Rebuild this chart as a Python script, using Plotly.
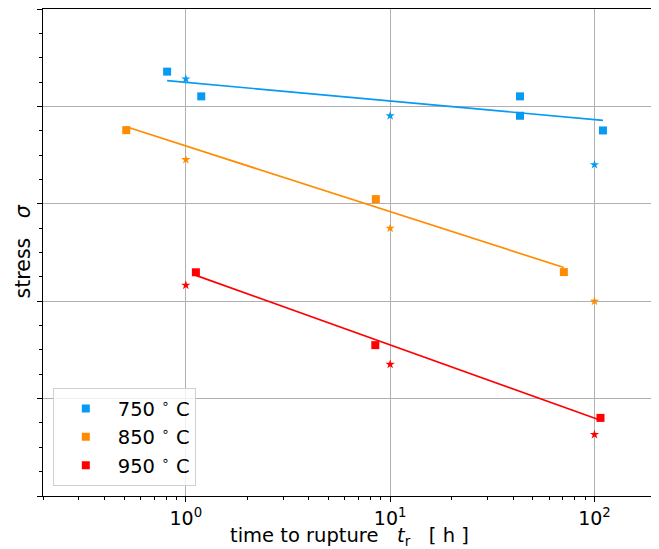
import numpy as np
import plotly.graph_objects as go

# ---- data ----
labels = ["750 <sup>∘</sup> C", "850 <sup>∘</sup> C", "950 <sup>∘</sup> C"]
colors = ["#069AF3", "#FF8C00", "#FF0000"]

# measured (squares)
t_750 = [0.81, 1.19, 43.2, 43.2, 110]
s_750 = [4.357, 4.103, 4.103, 3.904, 3.753]
t_850 = [0.511, 8.51, 70.8]
s_850 = [3.756, 3.048, 2.299]
t_950 = [1.12, 8.46, 107]
s_950 = [2.297, 1.549, 0.802]

# model (stars)
t_star = [1, 10, 100]
s_star_750 = [4.282, 3.904, 3.402]
s_star_850 = [3.454, 2.749, 2.0]
s_star_950 = [2.164, 1.352, 0.631]

xtick_vals = [1, 10, 100]
xtick_text = ["10<sup>0</sup>", "10<sup>1</sup>", "10<sup>2</sup>"]

meas = [(t_750, s_750), (t_850, s_850), (t_950, s_950)]
stars = [s_star_750, s_star_850, s_star_950]

fig = go.Figure()

for (t, s), c, lab in zip(meas, colors, labels):
    lt = np.log10(t)
    b, a = np.polyfit(lt, s, 1)
    xl = np.array([min(t), max(t)])
    fig.add_trace(go.Scatter(x=xl, y=a + b * np.log10(xl), mode="lines",
                             line=dict(color=c, width=1.7), showlegend=False,
                             hoverinfo="skip"))

for (t, s), c, lab in zip(meas, colors, labels):
    fig.add_trace(go.Scatter(x=t, y=s, mode="markers", name=lab,
                             marker=dict(symbol="square", size=8, color=c)))

for ss, c in zip(stars, colors):
    fig.add_trace(go.Scatter(x=t_star, y=ss, mode="markers", showlegend=False,
                             marker=dict(symbol="star", size=7, color=c)))

minor_x = [v * 10 ** k for k in (-1, 0, 1) for v in range(2, 10)] + [200]
minor_x = [v for v in minor_x if 0.2 <= v <= 200]

# the page body has an 8px default margin: shrink the figure to compensate
font_fam = "DejaVu Sans"
fig.update_layout(
    width=651, height=541,
    margin=dict(l=35, r=3, t=1, b=53, autoexpand=False),
    plot_bgcolor="white", paper_bgcolor="white",
    font=dict(family=font_fam, size=19, color="black"),
    xaxis=dict(
        type="log", range=[np.log10(0.2), np.log10(200)],
        tickvals=xtick_vals, ticktext=xtick_text,
        showgrid=True, gridcolor="#b0b0b0", gridwidth=1,
        showline=True, linecolor="black", linewidth=1.2, mirror=True,
        ticks="outside", ticklen=5, tickcolor="black",
        minor=dict(tickvals=minor_x, ticks="outside", ticklen=3, tickcolor="black", showgrid=False),
        tickfont=dict(size=19),
        automargin=False, zeroline=False,
    ),
    yaxis=dict(
        range=[0, 5], dtick=1, tick0=0,
        showticklabels=False,
        showgrid=True, gridcolor="#b0b0b0", gridwidth=1,
        showline=True, linecolor="black", linewidth=1.2, mirror=True,
        ticks="outside", ticklen=5, tickcolor="black",
        minor=dict(dtick=0.25, ticks="outside", ticklen=3, tickcolor="black", showgrid=False),
        automargin=False, zeroline=False,
    ),
    legend=dict(
        x=0.016, y=0.02, xanchor="left", yanchor="bottom",
        bgcolor="rgba(255,255,255,0.8)", bordercolor="#d0d0d0", borderwidth=1,
        font=dict(size=19.5), itemwidth=54,
    ),
    showlegend=True,
    annotations=[
        dict(text="time to rupture   <i>t</i><sub>r</sub>   [ h ]", xref="paper", yref="paper",
             x=0.5, y=-0.084, xanchor="center", yanchor="middle", showarrow=False,
             font=dict(size=19.5)),
        dict(text="stress   <i>σ</i>", xref="paper", yref="paper", textangle=-90,
             x=-0.032, y=0.503, xanchor="center", yanchor="middle", showarrow=False,
             font=dict(size=20.5)),
    ],
)

fig.write_html("out.html")
